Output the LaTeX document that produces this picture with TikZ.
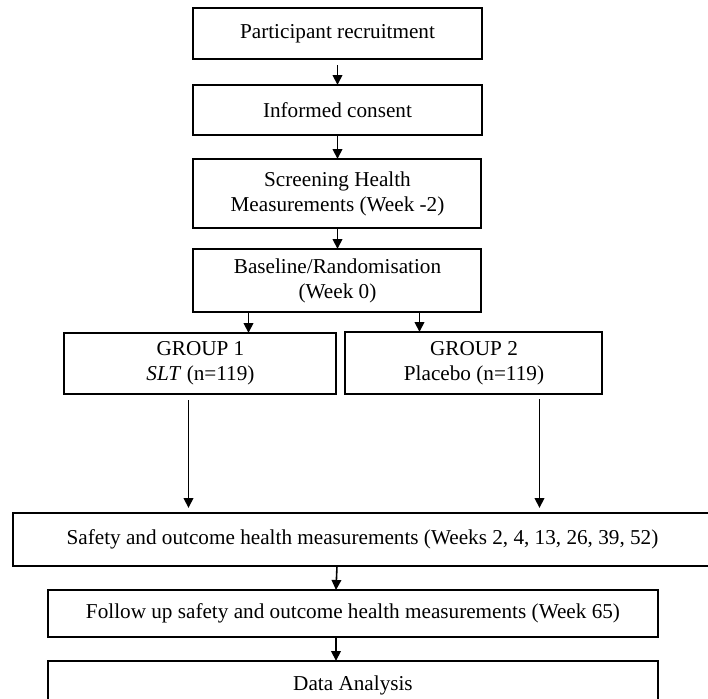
\documentclass[tikz,border=0pt]{standalone}
\usepackage{fontspec}
\setmainfont{Liberation Serif}
\usetikzlibrary{arrows.meta, positioning}

\begin{document}
\begin{tikzpicture}[
    font=\fontsize{10.6}{12.5}\selectfont,
    box/.style={rectangle, draw, line width=1pt, align=center, inner sep=0pt, outer sep=0pt},
    arr/.style={line width=0.8pt, -{Triangle[length=5pt, width=4.8pt]}},
]
\useasboundingbox (-168.75pt,16.75pt) rectangle (185.25pt,-332.25pt);

% Enrolment column
\node[box, minimum width=144.5pt, minimum height=25.5pt] (recruit) at (0,0) {Participant recruitment};
\node[box, minimum width=144.5pt, minimum height=25pt, below=13pt of recruit] (consent) {Informed consent};
\node[box, minimum width=144pt, minimum height=34.5pt, below=12pt of consent] (screen) {Screening Health\\Measurements (Week -2)};
\node[box, minimum width=144pt, minimum height=31.5pt, below=10.5pt of screen] (base) {Baseline/Randomisation\\(Week 0)};

% Arms
\node[box, minimum width=136pt, minimum height=30.5pt, below=10.5pt of base, xshift=-68.5pt] (grp1) {GROUP 1\\\textit{SLT} (n=119)};
\node[box, minimum width=128.5pt, minimum height=31pt, below=10pt of base, xshift=68.25pt] (grp2) {GROUP 2\\Placebo (n=119)};

% Follow-up
\node[box, minimum width=349pt, minimum height=26.5pt, below=59.5pt of grp1, xshift=81pt] (safety) {Safety and outcome health measurements (Weeks 2, 4, 13, 26, 39, 52)};
\node[box, minimum width=304.5pt, minimum height=23.5pt, below=12pt of safety, xshift=-4.75pt] (follow) {Follow up safety and outcome health measurements (Week 65)};
\node[box, minimum width=304.5pt, minimum height=24pt, below=12pt of follow] (analysis) {Data Analysis};

% Connections
\draw[arr, shorten <=3pt] (recruit) -- (consent);
\draw[arr] (consent) -- (screen);
\draw[arr] (screen) -- (base);
\draw[arr] ([xshift=-44.5pt]base.south) -- ([xshift=-44.5pt]base.south |- grp1.north);
\draw[arr] ([xshift=41pt]base.south) -- ([xshift=41pt]base.south |- grp2.north);
\draw[arr, shorten <=3pt, shorten >=2.5pt] ([xshift=-6pt]grp1.south) -- ([xshift=-6pt]grp1.south |- safety.north);
\draw[arr, shorten <=2.5pt, shorten >=2.5pt] ([xshift=32.75pt]grp2.south) -- ([xshift=32.75pt]grp2.south |- safety.north);
\draw[arr] ([xshift=-8pt]follow.north |- safety.south) -- ([xshift=-8.5pt]follow.north);
\draw[arr] ([xshift=-8.5pt]follow.south) -- ([xshift=-8.5pt]analysis.north);

\end{tikzpicture}
\end{document}
